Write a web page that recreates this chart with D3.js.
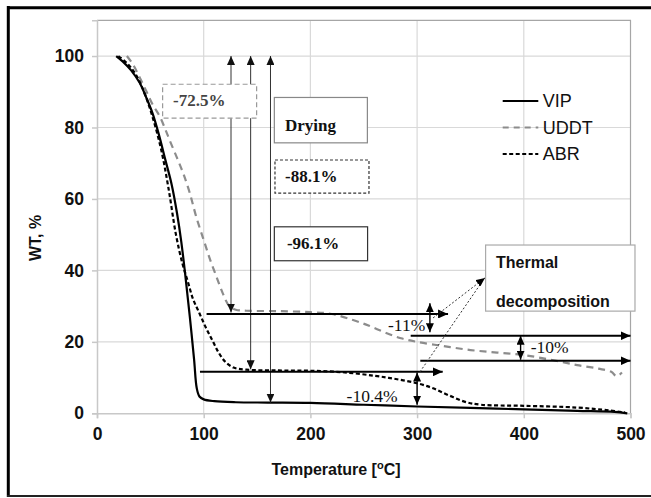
<!DOCTYPE html>
<html>
<head>
<meta charset="utf-8">
<script src="https://cdn.jsdelivr.net/npm/d3@7"></script>
<style>
  html, body { margin: 0; padding: 0; background: #fff; }
  svg { display: block; }
</style>
</head>
<body>
<svg id="chart" width="651" height="498"></svg>
<script>
// Thermogravimetric curves: weight (%) vs temperature (°C)
const vip = [
  [18,100],[24,98.5],[32,96],[40,92.5],[46,88.5],[52,84],[58,78],[64,71],[70,64],[75,56],
  [79,48],[83,38],[87,27],[91,15],[93.5,7],[96,4.7],[100,3.9],[110,3.4],[130,3.1],[160,3.0],
  [200,2.9],[250,2.4],[300,1.9],[350,1.5],[400,1.1],[450,0.7],[485,0.4],[497,0]
];
const uddt = [
  [28,100],[34,97.5],[40,94],[46.5,90],[52,86.5],[59,83],[64,79.5],[68,76.5],[75,71.5],[81,67],
  [87,61.6],[93,55],[100,48.5],[106,43],[112,38.2],[118,33.5],[124,30],[130,29],[140,28.7],[170,28.6],
  [200,28.3],[220,27.8],[240,26.1],[255,24.5],[270,22.6],[285,21],[300,20],[325,18.8],[350,17.7],
  [375,17],[400,16.3],[425,15],[450,13.5],[470,12.5],[482,11.6],[487,10.4],[492,11.4]
];
const abr = [
  [20,100],[28,98],[36,95],[44,90],[52,83],[60,74],[67,63],[74,50],[80,42],[85,37],
  [90,32],[96,28],[102,24],[108,20.5],[114,17],[120,14.5],[128,12.8],[140,12.2],[170,12],[200,11.9],
  [230,11.5],[260,10.5],[280,9.6],[300,8.4],[315,7],[330,5],[345,3.2],[360,2.4],[400,2.1],
  [450,1.6],[480,0.8],[495,0.2]
];

const xTicks = [0, 100, 200, 300, 400, 500];
const yTicks = [0, 20, 40, 60, 80, 100];
const seriesNames = ["VIP", "UDDT", "ABR"];

// Drying-stage arrows (from 100 % down to each plateau)
const dryingArrows = [[125.6, 28.2], [144, 12.3], [162.6, 3.0]];
// Plateau reference arrows: [y, xStart, xEnd]
const levelArrows = [[27.8, 102.7, 329], [11.6, 96.5, 324], [21.7, 294, 500], [14.7, 303, 500]];
// Loss arrows in the decomposition stage: [x, yTop, yBottom]
const lossArrows = [[312, 30.8, 22.7], [397, 21.7, 15.0], [300, 11.4, 2.4]];
const lossLabels = [["-11%", 272.7, 24.7], ["-10%", 406.4, 18.6], ["-10.4%", 233.9, 4.9]];

const svg = d3.select("#chart");
const W = 651, H = 498;
const x = d3.scaleLinear().domain([0, 500]).range([97, 630.5]);
const y = d3.scaleLinear().domain([0, 110]).range([413.3, 20.3]);

// outer frame
svg.append("line").attr("x1", 8.3).attr("x2", 8.3).attr("y1", 6).attr("y2", 497)
  .attr("stroke", "#000").attr("stroke-width", 3);
svg.append("line").attr("x1", 7).attr("x2", W).attr("y1", 7.7).attr("y2", 7.7)
  .attr("stroke", "#000").attr("stroke-width", 3);
svg.append("line").attr("x1", 7).attr("x2", W).attr("y1", 496).attr("y2", 496)
  .attr("stroke", "#222").attr("stroke-width", 2);

// gridlines
const grid = svg.append("g");
grid.selectAll(".gy").data([20, 40, 60, 80, 100]).join("line")
  .attr("x1", x(0)).attr("x2", x(500)).attr("y1", d => y(d)).attr("y2", d => y(d))
  .attr("stroke", "#d9d9d9").attr("stroke-width", 1.2);
grid.selectAll(".gx").data([100, 200, 300, 400]).join("line")
  .attr("x1", d => x(d)).attr("x2", d => x(d)).attr("y1", y(0)).attr("y2", y(110))
  .attr("stroke", "#d9d9d9").attr("stroke-width", 1.2);
// plot frame (top / right)
svg.append("path")
  .attr("d", `M${x(0)},${y(110)}H${x(500)}V${y(0)}`)
  .attr("fill", "none").attr("stroke", "#a6a6a6").attr("stroke-width", 1.2);

// axes
const xAxis = svg.append("g").attr("transform", `translate(0,${y(0)})`)
  .call(d3.axisBottom(x).tickValues(xTicks).tickSize(5).tickPadding(9));
const yAxis = svg.append("g").attr("transform", `translate(${x(0)},0)`)
  .call(d3.axisLeft(y).tickValues(yTicks).tickSize(5).tickPadding(8));
[xAxis, yAxis].forEach(g => {
  g.select(".domain").attr("stroke", "#c8c8c8").attr("stroke-width", 1.5);
  g.selectAll(".tick line").attr("stroke", "#c8c8c8").attr("stroke-width", 1.5);
  g.selectAll(".tick text").attr("fill", "#111")
    .style("font-family", "Liberation Sans, Arial, sans-serif")
    .style("font-size", "17.5px").style("font-weight", "bold");
});

// axis titles
const title = svg.append("text").attr("x", 336).attr("y", 475)
  .attr("text-anchor", "middle").attr("fill", "#111")
  .style("font-family", "Liberation Sans, Arial, sans-serif")
  .style("font-size", "16px").style("font-weight", "bold");
title.append("tspan").text("Temperature [");
title.append("tspan").attr("dy", -6).style("font-size", "11px").text("o");
title.append("tspan").attr("dy", 6).text("C]");
svg.append("text").attr("transform", "translate(41,238) rotate(-90)")
  .attr("text-anchor", "middle").attr("fill", "#111")
  .style("font-family", "Liberation Sans, Arial, sans-serif")
  .style("font-size", "16px").style("font-weight", "bold").text("WT, %");

// markers
const defs = svg.append("defs");
function marker(id, w, h, color) {
  defs.append("marker").attr("id", id).attr("viewBox", `0 0 ${w} ${h}`)
    .attr("refX", w).attr("refY", h / 2).attr("markerWidth", w).attr("markerHeight", h)
    .attr("markerUnits", "userSpaceOnUse").attr("orient", "auto-start-reverse")
    .append("path").attr("d", `M0,0L${w},${h / 2}L0,${h}Z`).attr("fill", color);
}
marker("headThin", 9, 8, "#111");
marker("headBold", 10, 9, "#000");
marker("headSmall", 9, 8, "#000");

// curves
const styles = {
  VIP: { stroke: "#000", dash: null, width: 2.2 },
  UDDT: { stroke: "#8c8c8c", dash: "7,5", width: 2.2 },
  ABR: { stroke: "#000", dash: "4,2.5", width: 2.2 }
};
const curveData = { VIP: vip, UDDT: uddt, ABR: abr };
const lineCat = d3.line().x(d => x(d[0])).y(d => y(d[1])).curve(d3.curveCatmullRom.alpha(0.5));
["UDDT", "ABR", "VIP"].forEach(k => {
  svg.append("path").datum(curveData[k]).attr("d", lineCat)
    .attr("fill", "none").attr("stroke", styles[k].stroke)
    .attr("stroke-width", styles[k].width).attr("stroke-dasharray", styles[k].dash);
});

// drying arrows (double headed, thin)
svg.selectAll(".dry").data(dryingArrows).join("line")
  .attr("x1", d => x(d[0])).attr("x2", d => x(d[0]))
  .attr("y1", d => y(d[1])).attr("y2", y(100))
  .attr("stroke", "#333").attr("stroke-width", 1)
  .attr("marker-start", "url(#headThin)").attr("marker-end", "url(#headThin)");

// plateau arrows
svg.selectAll(".lvl").data(levelArrows).join("line")
  .attr("x1", d => x(d[1])).attr("x2", d => x(d[2]))
  .attr("y1", d => y(d[0])).attr("y2", d => y(d[0]))
  .attr("stroke", "#000").attr("stroke-width", 2)
  .attr("marker-end", "url(#headBold)");

// loss arrows
svg.selectAll(".loss").data(lossArrows).join("line")
  .attr("x1", d => x(d[0])).attr("x2", d => x(d[0]))
  .attr("y1", d => y(d[1])).attr("y2", d => y(d[2]))
  .attr("stroke", "#000").attr("stroke-width", 1.4)
  .attr("marker-start", "url(#headSmall)").attr("marker-end", "url(#headSmall)");

const serif = "Liberation Serif, 'Times New Roman', serif";
const sans = "Liberation Sans, Arial, sans-serif";
svg.selectAll(".lossLbl").data(lossLabels).join("text")
  .attr("x", d => x(d[1])).attr("y", d => y(d[2])).attr("dy", "0.35em")
  .attr("fill", "#111").style("font-family", serif).style("font-size", "17.5px")
  .text(d => d[0]);

// dotted pointers to the decomposition box
const tip = [363.6, 37.9];
svg.append("line").attr("x1", x(302.7)).attr("y1", y(11.6)).attr("x2", x(tip[0]) - 3).attr("y2", y(tip[1]) + 4)
  .attr("stroke", "#333").attr("stroke-width", 1).attr("stroke-dasharray", "2,2");
svg.append("line").attr("x1", x(315)).attr("y1", y(26.7)).attr("x2", x(tip[0])).attr("y2", y(tip[1]))
  .attr("stroke", "#333").attr("stroke-width", 1).attr("stroke-dasharray", "2,2")
  .attr("marker-end", "url(#headSmall)");

// annotation boxes
const boxes = [
  { x0: 61.5, x1: 149.6, y0: 92.1, y1: 82.6, stroke: "#999", dash: "5,3" },
  { x0: 166.2, x1: 253.4, y0: 88.4, y1: 75.7, stroke: "#888", dash: null },
  { x0: 166.8, x1: 254.9, y0: 70.9, y1: 61.6, stroke: "#333", dash: "3,2" },
  { x0: 166.2, x1: 253.6, y0: 52.2, y1: 42.7, stroke: "#333", dash: null },
  { x0: 364.2, x1: 504.2, y0: 47.1, y1: 28.6, stroke: "#aaa", dash: null }
];
svg.selectAll(".box").data(boxes).join("rect")
  .attr("x", d => x(d.x0)).attr("y", d => y(d.y0))
  .attr("width", d => x(d.x1) - x(d.x0)).attr("height", d => y(d.y1) - y(d.y0))
  .attr("fill", "#fff").attr("stroke", d => d.stroke).attr("stroke-width", 1.2)
  .attr("stroke-dasharray", d => d.dash);

const boxTexts = [
  { t: "-72.5%", x: 71.2, y: 87.6, font: serif, size: 17, fill: "#444" },
  { t: "Drying", x: 176.2, y: 80.6, font: serif, size: 17, fill: "#111" },
  { t: "-88.1%", x: 176.2, y: 66.4, font: serif, size: 17, fill: "#111" },
  { t: "-96.1%", x: 178, y: 47.6, font: serif, size: 17, fill: "#111" },
  { t: "Thermal", x: 374, y: 42.1, font: sans, size: 16, fill: "#111" },
  { t: "decomposition", x: 374, y: 31.4, font: sans, size: 16, fill: "#111" }
];
svg.selectAll(".btxt").data(boxTexts).join("text")
  .attr("x", d => x(d.x)).attr("y", d => y(d.y)).attr("dy", "0.35em")
  .attr("fill", d => d.fill).style("font-family", d => d.font)
  .style("font-weight", "bold").style("font-size", d => d.size + "px")
  .text(d => d.t);

// legend
const legend = svg.append("g");
seriesNames.forEach((k, i) => {
  const ly = 101 + i * 26.5;
  legend.append("line").attr("x1", 502.7).attr("x2", 538.3).attr("y1", ly).attr("y2", ly)
    .attr("stroke", styles[k].stroke).attr("stroke-width", 2)
    .attr("stroke-dasharray", k === "UDDT" ? "6,5" : k === "ABR" ? "4,2.5" : null);
  legend.append("text").attr("x", 542.7).attr("y", ly).attr("dy", "0.36em")
    .attr("fill", "#111").style("font-family", sans).style("font-size", "18px").text(k);
});
</script>
</body>
</html>
